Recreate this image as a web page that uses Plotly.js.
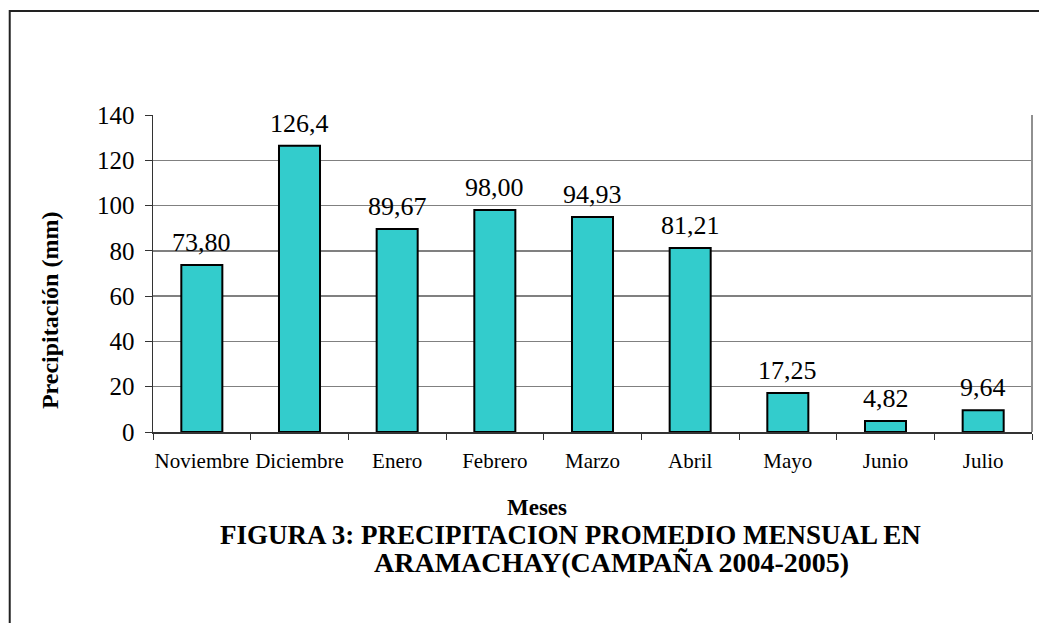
<!DOCTYPE html>
<html>
<head>
<meta charset="utf-8">
<script src="https://cdn.plot.ly/plotly-3.0.1.min.js"></script>
<style>html,body{margin:0;padding:0;background:#fff;}#chart{width:1039px;height:623px;}</style>
</head>
<body>
<div id="chart"></div>
<script>
const months = ["Noviembre","Diciembre","Enero","Febrero","Marzo","Abril","Mayo","Junio","Julio"];
const precipitation = [73.80, 126.4, 89.67, 98.00, 94.93, 81.21, 17.25, 4.82, 9.64];
const valueLabels = ["73,80","126,4","89,67","98,00","94,93","81,21","17,25","4,82","9,64"];
const yTicks = [0,20,40,60,80,100,120,140];

const FONT = "'Liberation Serif', 'Times New Roman', serif";

const trace = {
  type: "bar",
  x: months,
  y: precipitation,
  marker: {color: "#33CCCC", line: {color: "#000000", width: 2}},
  hoverinfo: "skip"
};

const annotations = months.map((m, i) => ({
  x: m, y: precipitation[i], xref: "x", yref: "y",
  text: valueLabels[i], showarrow: false,
  yanchor: "bottom", yshift: 6,
  font: {family: FONT, size: 26, color: "#000"}
}));

annotations.push({
  xref: "paper", yref: "paper", x: 0.437, y: -0.237,
  text: "<b>Meses</b>", showarrow: false, xanchor: "center", yanchor: "middle",
  font: {family: FONT, size: 23, color: "#000"}
});
annotations.push({
  xref: "paper", yref: "paper", x: -0.117, y: 0.385, textangle: -90,
  text: "<b>Precipitación (mm)</b>", showarrow: false, xanchor: "center", yanchor: "middle",
  font: {family: FONT, size: 24, color: "#000"}
});
annotations.push({
  xref: "paper", yref: "paper", x: 0.4755, y: -0.325,
  text: "<b>FIGURA 3: PRECIPITACION PROMEDIO MENSUAL EN</b>", showarrow: false,
  xanchor: "center", yanchor: "middle",
  font: {family: FONT, size: 27, color: "#000"}
});
annotations.push({
  xref: "paper", yref: "paper", x: 0.522, y: -0.413,
  text: "<b>ARAMACHAY(CAMPAÑA 2004-2005)</b>", showarrow: false,
  xanchor: "center", yanchor: "middle",
  font: {family: FONT, size: 28, color: "#000"}
});

const layout = {
  width: 1039, height: 623,
  margin: {l: 153, r: 7, t: 115, b: 191},
  paper_bgcolor: "#ffffff", plot_bgcolor: "#ffffff",
  showlegend: false,
  bargap: 0.58,
  font: {family: FONT, color: "#000"},
  xaxis: {
    type: "category",
    tickson: "boundaries",
    tickangle: 0,
    ticks: "outside", ticklen: 6, tickcolor: "#333", tickwidth: 1,
    ticklabelstandoff: 9,
    showline: true, linecolor: "#333", linewidth: 1.5,
    showgrid: false, zeroline: false,
    tickfont: {family: FONT, size: 21, color: "#000"}
  },
  yaxis: {
    range: [0, 140],
    tickvals: yTicks,
    ticks: "outside", ticklen: 7, tickcolor: "#333", tickwidth: 1,
    ticklabelstandoff: 5,
    showline: true, linecolor: "#333", linewidth: 1.5,
    showgrid: true, gridcolor: "#808080", gridwidth: 1.5,
    zeroline: false,
    tickfont: {family: FONT, size: 25, color: "#000"}
  },
  shapes: [
    {type: "line", xref: "paper", yref: "paper", x0: 1, x1: 1, y0: 0, y1: 1,
     line: {color: "#909090", width: 2}},
    {type: "rect", xref: "paper", yref: "paper",
     x0: -0.163, x1: 1.5, y0: -1.5, y1: 1.328,
     line: {color: "#222", width: 2}, fillcolor: "rgba(0,0,0,0)", layer: "below"}
  ],
  annotations: annotations
};

Plotly.newPlot("chart", [trace], layout, {displayModeBar: false, staticPlot: true});
</script>
</body>
</html>
